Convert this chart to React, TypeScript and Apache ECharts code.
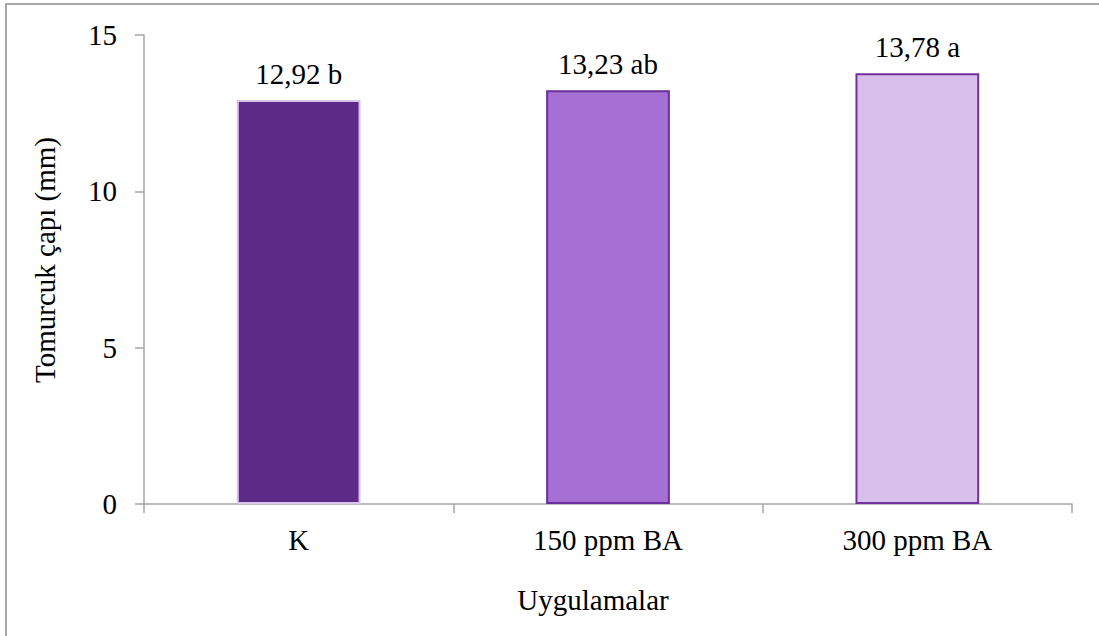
import React, { useEffect, useRef } from "react";
import * as echarts from "echarts";

const categories = ["K", "150 ppm BA", "300 ppm BA"];
const values = [12.92, 13.23, 13.78];
const letters = ["b", "ab", "a"];
const fillColors = ["#5E2A87", "#A66FD4", "#D8BEEA"];
const borderColors = ["#D9C3EC", "#6A2E9A", "#7030A0"];
const yTicks = { min: 0, max: 15, interval: 5 };
const yTitle = "Tomurcuk çapı (mm)";
const xTitle = "Uygulamalar";

const FONT = "Liberation Serif, Times New Roman, serif";

export default function App() {
  const ref = useRef<HTMLDivElement>(null);
  useEffect(() => {
    document.body.style.margin = "0";
    const chart = echarts.init(ref.current!, null, { renderer: "svg" });
    chart.setOption({
      animation: false,
      backgroundColor: "#ffffff",
      textStyle: { fontFamily: FONT },
      grid: { left: 144, right: 27, top: 35, bottom: 132 },
      xAxis: {
        type: "category",
        data: categories,
        axisLine: { lineStyle: { color: "#A6A6A6", width: 1.5 } },
        axisTick: { show: true, length: 9, lineStyle: { color: "#A6A6A6", width: 1.5 } },
        axisLabel: { color: "#000", fontFamily: FONT, fontSize: 29, margin: 21 },
      },
      yAxis: {
        type: "value",
        min: yTicks.min,
        max: yTicks.max,
        interval: yTicks.interval,
        splitLine: { show: false },
        axisLine: { show: true, lineStyle: { color: "#A6A6A6", width: 1.5 } },
        axisTick: { show: true, length: 9, lineStyle: { color: "#A6A6A6", width: 1.5 } },
        axisLabel: { color: "#000", fontFamily: FONT, fontSize: 29, margin: 27 },
      },
      series: [
        {
          type: "bar",
          barWidth: "40%",
          data: values.map((v, i) => ({
            value: v,
            itemStyle: { color: fillColors[i], borderColor: borderColors[i], borderWidth: 2 },
          })),
          label: {
            show: true,
            position: "top",
            distance: 12,
            color: "#000",
            fontFamily: FONT,
            fontSize: 29,
            formatter: (p: any) => `${values[p.dataIndex].toFixed(2).replace(".", ",")} ${letters[p.dataIndex]}`,
          },
        },
      ],
      graphic: [
        {
          type: "rect",
          shape: { x: 6, y: 4, width: 1200, height: 700 },
          style: { fill: "none", stroke: "#8C8C8C", lineWidth: 1.5 },
          silent: true,
        },
        {
          type: "text",
          x: 45,
          y: 260,
          rotation: Math.PI / 2,
          style: {
            text: yTitle,
            fontFamily: FONT,
            fontSize: 29,
            fill: "#000",
            textAlign: "center",
            textVerticalAlign: "middle",
          },
        },
        {
          type: "text",
          x: 593,
          y: 600,
          style: {
            text: xTitle,
            fontFamily: FONT,
            fontSize: 29,
            fill: "#000",
            textAlign: "center",
            textVerticalAlign: "middle",
          },
        },
      ],
    });
    return () => chart.dispose();
  }, []);
  return <div ref={ref} style={{ width: 1099, height: 636 }} />;
}
